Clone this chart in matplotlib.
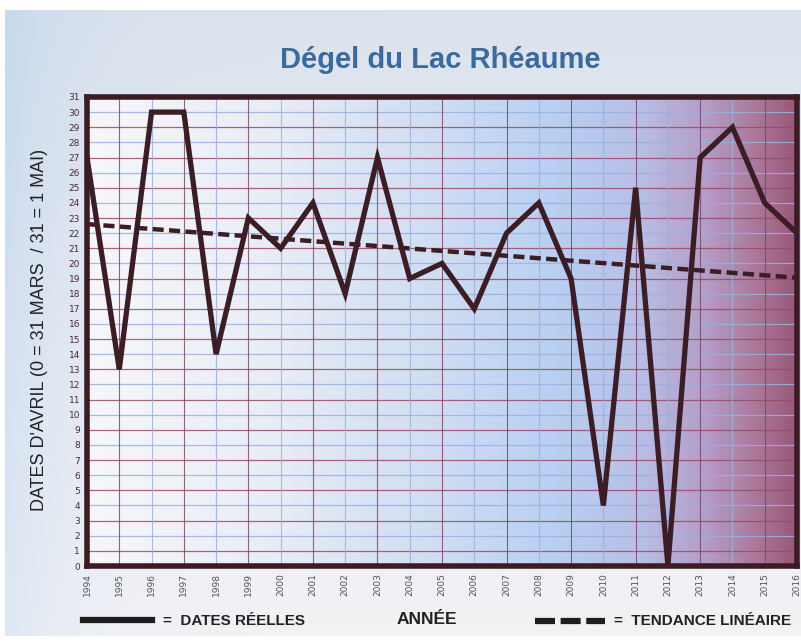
import numpy as np
import matplotlib.pyplot as plt
from matplotlib.colors import LinearSegmentedColormap
from matplotlib.lines import Line2D

# dates de dégel (jours d'avril, 0 = 31 mars, 31 = 1 mai)
annees = list(range(1994, 2017))
dates = [27, 13, 30, 30, 14, 23, 21, 24, 18, 27, 19, 20, 17, 22, 24, 19, 4, 25, 0, 27, 29, 24, 22]

x = np.array(annees)
y = np.array(dates)
pente, orig = np.polyfit(x, y, 1)
tendance = pente * x + orig

W, H = 801, 642
fig = plt.figure(figsize=(W / 100, H / 100), dpi=100)
fig.patch.set_facecolor('white')

# fond degrade de la page
bg = fig.add_axes([5 / W, 1 - 636 / H, 1 - 5 / W, (636 - 10) / H])
bg.set_axis_off()
gy = np.linspace(0, 1, 200)[:, None]
gx = np.linspace(0, 1, 200)[None, :]
top = np.array([0.86, 0.89, 0.93])
bot = np.array([0.95, 0.95, 0.96])
img = top * (1 - gy[..., None]) + bot * gy[..., None]
img = img + 0 * gx[..., None]
# un peu de bleu sur la gauche
img[:, :, 0] -= 0.08 * np.exp(-gx / 0.08) * np.ones_like(gy)
img[:, :, 1] -= 0.04 * np.exp(-gx / 0.08) * np.ones_like(gy)
bg.imshow(np.clip(img, 0, 1), aspect='auto', extent=[0, 1, 1, 0])
bg.set_xlim(0, 1)
bg.set_ylim(1, 0)

ax = fig.add_axes([87 / W, 1 - 566 / H, (797 - 87) / W, (566 - 97) / H])

cmap = LinearSegmentedColormap.from_list('fond', [
    (0.0, '#f7f7fa'), (0.25, '#e9edf6'), (0.5, '#cfdcf2'), (0.66, '#b9d0f2'),
    (0.78, '#b8bfe6'), (0.88, '#b49ac4'), (0.96, '#a87090'), (1.0, '#98587a')])
grad = np.linspace(0, 1, 400)[None, :]
ax.imshow(grad, cmap=cmap, aspect='auto', extent=[1994, 2016, 0, 31], zorder=0)

# grille
for v in range(1, 31):
    c = '#9a4a62' if v % 2 else '#9ab0e4'
    ax.axhline(v, color=c, lw=0.9, zorder=1, alpha=0.85)
for a in annees[1:-1]:
    c = '#7a4a6a' if a % 2 else '#9aaee4'
    ax.axvline(a, color=c, lw=0.8, zorder=1, alpha=0.85)

ax.plot(x, y, color='#3b1d25', lw=3.8, solid_joinstyle='miter', zorder=3)
ax.plot(x, tendance, color='#3b1d25', lw=3.2, linestyle=(0, (2.5, 1.2)), zorder=3)

ax.set_xlim(1994, 2016)
ax.set_ylim(0, 31)
ax.set_xticks(annees)
ax.set_xticklabels([str(a) for a in annees], rotation=90, fontsize=6.5, color='#555555')
ax.set_yticks(range(0, 32))
ax.set_yticklabels([str(v) for v in range(0, 32)], fontsize=6.5, color='#4a2a3a')
ax.tick_params(length=0, pad=5)
for s in ax.spines.values():
    s.set_color('#3b1c24')
    s.set_linewidth(4)

fig.text(40 / W, 1 - 330 / H, "DATES D'AVRIL (0 = 31 MARS  / 31 = 1 MAI)", rotation=90,
         ha='center', va='center', fontsize=13, color='#222222', family='Liberation Sans')

fig.text(440 / W, 1 - 60 / H, 'Dégel du Lac Rhéaume', ha='center', va='center',
         fontsize=21, fontweight='bold', color='#3a6a9e', family='Liberation Sans')

# legende du bas
police = 'Liberation Sans'
fig.add_artist(Line2D([83 / W, 152 / W], [1 - 620 / H] * 2, color='#1e1e1e', lw=4.5))
fig.text(163 / W, 1 - 621 / H, '=  DATES RÉELLES', ha='left', va='center',
         fontsize=11, fontweight='bold', color='#222222', family=police)
fig.text(427 / W, 1 - 619 / H, 'ANNÉE', ha='center', va='center',
         fontsize=12.5, fontweight='bold', color='#222222', family=police)
fig.add_artist(Line2D([535 / W, 605 / W], [1 - 621 / H] * 2, color='#1e1e1e', lw=4.5,
                      linestyle=(0, (3.2, 0.9))))
fig.text(614 / W, 1 - 621 / H, '=  TENDANCE LINÉAIRE', ha='left', va='center',
         fontsize=11, fontweight='bold', color='#222222', family=police)

fig.savefig('out.png', dpi=100)
